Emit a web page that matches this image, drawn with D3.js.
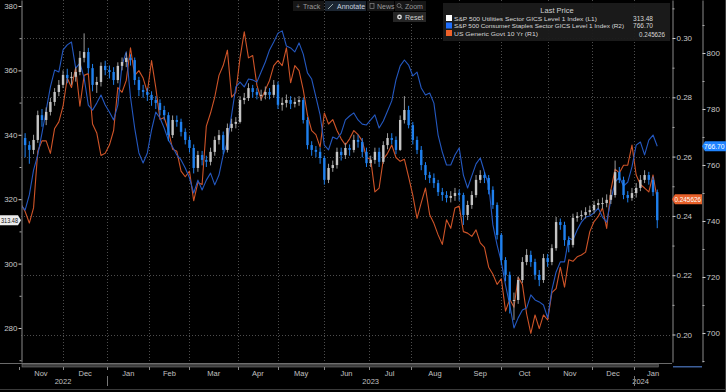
<!DOCTYPE html>
<html><head><meta charset="utf-8">
<script src="https://cdn.jsdelivr.net/npm/d3@7"></script>
<style>
html,body{margin:0;padding:0;background:#000;overflow:hidden}
svg{display:block}
text{font-family:"Liberation Sans",Arial,sans-serif}
</style>
</head><body>
<svg id="c" width="726" height="392"></svg>
<script>
// ---------------- DATA ----------------
const months = ["Nov","Dec","Jan","Feb","Mar","Apr","May","Jun","Jul","Aug","Sep","Oct","Nov","Dec","Jan"];
const monthStarts = [0,21,42,62,81,104,123,145,166,186,209,229,251,272,292]; // trading-day index
const years = ["2022","2023","2024"];
const yearSpans = [[0,42],[42,292],[292,302]];
const leftTicks = [280,300,320,340,360,380];
const r1Ticks = [0.20,0.22,0.24,0.26,0.28,0.30];
const r2Ticks = [700,720,740,760,780,800];
const seriesNames = [
  "S&P 500 Utilities Sector GICS Level 1 Index  (L1)",
  "S&P 500 Consumer Staples Sector GICS Level 1 Index  (R2)",
  "US Generic Govt 10 Yr  (R1)"
];
const lastValues = ["313.48","766.70","0.245626"];
const toolbarItems = ["Track","Annotate","News","Zoom"];

// Utilities (L1) candles, one every 2 trading days
const utilFirstOpen = 340.0;
const utilClose = [339.0,336.8,335.3,338.4,346.1,344.6,347.1,350.2,353.3,355.5,
 358.6,357.6,358.0,359.5,363.9,365.7,360.7,355.5,356.4,361.4,
 360.1,359.5,357.0,361.4,362.6,363.9,363.2,357.0,353.9,353.3,
 352.4,350.8,349.9,347.7,346.1,339.9,344.6,344.0,340.9,338.4,
 335.9,329.7,333.7,332.2,331.6,334.7,338.4,339.9,335.3,342.1,
 343.4,344.0,350.8,351.4,354.5,353.3,352.4,352.4,353.3,352.4,
 355.5,349.3,349.9,350.8,349.6,350.2,350.8,344.6,336.8,335.3,
 334.7,332.8,326.0,329.7,330.6,334.7,333.7,335.9,335.3,338.4,
 337.8,334.7,331.2,332.2,334.7,331.6,336.8,339.0,338.4,335.3,
 344.6,347.7,343.0,338.4,335.3,330.6,327.5,326.6,325.0,322.2,
 321.3,320.4,321.0,321.9,321.3,315.1,318.2,321.3,326.0,327.5,
 326.6,322.9,318.2,308.9,301.1,296.5,288.7,288.7,294.9,300.5,
 302.7,300.5,296.5,294.9,301.7,300.5,304.8,312.9,312.0,307.3,
 305.8,314.2,314.8,315.1,316.0,316.6,318.2,318.8,318.8,319.8,
 321.3,328.4,326.0,321.3,320.4,321.9,323.5,326.0,327.5,326.0,
 322.2,313.48];
const utilHigh = [341.5,340.5,338.0,340.0,347.5,348.0,348.5,351.5,354.5,357.0,
 360.0,360.5,359.5,361.0,366.0,371.5,367.0,362.0,358.0,362.5,
 363.0,361.5,361.0,362.5,364.0,365.5,365.0,364.0,358.0,355.5,
 354.5,353.5,352.0,351.0,349.0,347.0,346.0,346.0,345.0,342.0,
 339.5,337.0,335.0,335.0,333.5,336.0,339.5,341.5,341.0,343.5,
 345.0,345.5,352.0,353.0,356.0,355.5,354.5,354.0,355.0,354.5,
 357.0,356.5,351.5,352.5,352.0,351.5,352.0,351.5,345.5,338.0,
 336.5,336.0,333.5,331.0,332.0,336.0,336.0,337.5,337.0,340.0,
 340.0,339.0,336.0,333.5,336.0,336.0,338.0,340.5,340.5,339.5,
 346.0,352.0,349.0,344.0,339.5,336.5,331.5,328.5,328.0,326.0,
 323.5,322.5,322.5,323.5,323.0,322.0,319.5,322.5,327.5,329.0,
 328.5,327.5,324.0,319.0,309.5,302.0,297.5,291.0,296.0,302.0,
 304.5,304.0,301.5,298.0,303.0,303.0,306.0,314.5,314.0,313.0,
 308.5,315.5,316.0,316.5,317.5,318.0,319.5,320.0,320.5,321.5,
 323.0,332.0,330.0,327.0,322.5,323.5,325.0,327.5,329.0,328.5,
 327.0,323.0];
const utilLow = [337.0,333.0,331.0,334.0,337.5,342.5,343.0,346.0,349.0,352.0,
 354.5,356.0,355.5,356.5,358.5,362.5,359.0,353.5,353.0,355.0,
 358.5,357.5,355.5,356.0,360.0,361.0,361.5,355.5,352.0,351.5,
 350.5,349.0,348.0,346.0,344.5,338.0,339.0,342.5,339.5,337.0,
 334.5,328.0,328.5,330.5,330.0,330.5,333.5,337.0,334.0,334.5,
 341.0,342.0,343.5,349.5,350.5,351.5,351.0,350.5,351.0,351.0,
 351.5,348.0,347.5,348.5,348.0,348.5,349.0,343.5,335.5,333.5,
 333.0,331.0,324.5,325.0,328.5,329.5,332.0,332.5,333.5,334.5,
 336.0,333.0,330.0,330.0,331.0,330.0,331.0,335.5,337.0,334.0,
 335.0,343.5,342.0,337.0,334.0,329.0,326.0,325.0,323.5,321.0,
 319.5,319.0,319.0,319.5,319.5,312.0,313.5,317.0,320.5,325.0,
 325.0,321.5,317.0,307.5,299.5,294.5,284.5,282.5,287.5,294.0,
 299.5,299.0,295.0,293.0,294.0,299.0,299.5,304.0,310.5,305.5,
 303.5,305.0,313.0,313.5,314.0,315.0,315.5,317.0,317.0,317.5,
 318.5,320.5,325.0,320.0,319.0,319.5,320.5,322.5,325.0,324.5,
 321.0,311.0];

// Consumer Staples (R2)
const staples = [745.7,743.9,749.3,758.2,763.6,771.4,779.6,787.9,793.9,793.2,
 801.1,802.9,803.9,794.6,796.4,791.1,781.4,779.6,782.1,785.0,
 781.4,778.9,776.1,781.4,795.7,800.4,784.3,773.2,764.3,760.7,
 764.3,772.5,778.9,776.8,773.2,768.9,766.4,763.6,761.8,758.9,
 755.4,750.0,754.6,751.1,754.6,757.1,752.9,756.4,763.6,768.2,
 777.9,787.9,789.6,787.9,790.7,790.4,789.6,793.2,796.8,801.1,
 803.9,807.1,807.9,802.5,801.8,800.4,803.6,799.6,792.9,790.7,
 784.3,777.9,767.1,765.4,770.0,769.3,771.4,776.1,777.5,778.6,
 776.1,774.6,774.3,776.1,777.9,773.2,775.7,779.3,782.9,790.4,
 795.4,797.5,795.7,791.8,793.2,787.5,785.0,785.7,782.1,770.7,
 764.6,760.0,760.0,763.6,766.1,756.4,751.8,756.1,760.4,762.5,
 757.5,752.9,738.6,731.4,725.4,717.1,710.0,701.8,705.4,708.2,
 708.9,713.6,711.8,711.1,710.0,705.4,715.4,721.8,725.4,725.4,
 733.9,733.2,736.8,739.6,741.4,741.8,742.9,744.6,741.4,739.6,
 747.5,753.9,755.7,752.5,753.9,759.3,767.1,768.2,763.6,768.9,
 770.7,766.70];

// US Generic Govt 10 Yr (R1)
const govt10 = [0.2440,0.2415,0.2376,0.2427,0.2618,0.2653,0.2653,0.2611,0.2695,0.2717,
 0.2770,0.2865,0.2833,0.2900,0.2770,0.2874,0.2880,0.2710,0.2680,0.2604,
 0.2611,0.2639,0.2688,0.2833,0.2817,0.2857,0.2967,0.2874,0.2890,0.2865,
 0.2817,0.2924,0.2833,0.2725,0.2732,0.2688,0.2625,0.2618,0.2551,0.2532,
 0.2551,0.2451,0.2513,0.2506,0.2703,0.2747,0.2801,0.2874,0.2907,0.2959,
 0.2801,0.2817,0.2933,0.3021,0.2933,0.2941,0.2841,0.2793,0.2825,0.2857,
 0.2907,0.2924,0.2907,0.2967,0.2849,0.2907,0.2890,0.2825,0.2740,0.2688,
 0.2674,0.2632,0.2747,0.2710,0.2725,0.2688,0.2660,0.2639,0.2660,0.2688,
 0.2674,0.2653,0.2597,0.2591,0.2481,0.2494,0.2591,0.2611,0.2639,0.2597,
 0.2584,0.2591,0.2532,0.2469,0.2392,0.2445,0.2494,0.2404,0.2375,0.2336,
 0.2304,0.2387,0.2358,0.2427,0.2433,0.2347,0.2342,0.2331,0.2353,0.2309,
 0.2294,0.2227,0.2203,0.2169,0.2188,0.2079,0.2119,0.2092,0.2193,0.2169,
 0.2070,0.2004,0.2066,0.2020,0.2066,0.2049,0.2141,0.2155,0.2227,0.2160,
 0.2252,0.2247,0.2262,0.2268,0.2278,0.2347,0.2381,0.2398,0.2427,0.2358,
 0.2488,0.2558,0.2545,0.2571,0.2571,0.2639,0.2538,0.2506,0.2494,0.2481,
 0.2538,0.245626];

// ---------------- CHART ----------------
const svg = d3.select("#c");
svg.append("rect").attr("width",726).attr("height",392).attr("fill","#000");

const plotL = 21, plotR = 672, plotT = 0, plotB = 362;
const x = d3.scaleLinear().domain([0,310]).range([18.8,672]);
const yL = d3.scaleLinear().domain([269.44,381.86]).range([plotB,plotT]);
const yR1 = d3.scaleLinear().domain([0.19073,0.31282]).range([plotB,plotT]);
const yR2 = d3.scaleLinear().domain([689.64,818.93]).range([plotB,plotT]);
const dayOf = i => 2*i + 1;

const gridColor = "#4d4d4d";
svg.append("g").selectAll("line").data(r1Ticks).join("line")
  .attr("x1",plotL).attr("x2",plotR)
  .attr("y1",d=>Math.round(yR1(d))+0.5).attr("y2",d=>Math.round(yR1(d))+0.5)
  .attr("stroke",gridColor).attr("stroke-width",1).attr("stroke-dasharray","1,2");
svg.append("g").selectAll("line").data(monthStarts.slice(1)).join("line")
  .attr("x1",d=>Math.round(x(d))+0.5).attr("x2",d=>Math.round(x(d))+0.5)
  .attr("y1",plotT).attr("y2",plotB)
  .attr("stroke",gridColor).attr("stroke-width",1).attr("stroke-dasharray","1,2");

svg.append("clipPath").attr("id","clip").append("rect")
  .attr("x",plotL+1).attr("y",plotT).attr("width",plotR-plotL-1).attr("height",plotB-plotT);
const plot = svg.append("g").attr("clip-path","url(#clip)");

const lineR1 = d3.line().x((d,i)=>x(dayOf(i))).y(d=>yR1(d));
const lineR2 = d3.line().x((d,i)=>x(dayOf(i))).y(d=>yR2(d));
plot.append("path").datum(govt10).attr("d",lineR1)
  .attr("fill","none").attr("stroke","#cf5428").attr("stroke-width",1.1).attr("stroke-linejoin","round");
plot.append("path").datum(staples).attr("d",lineR2)
  .attr("fill","none").attr("stroke","#2458c0").attr("stroke-width",1.1).attr("stroke-linejoin","round");

const candles = utilClose.map((c,i)=>({
  d: dayOf(i), o: i ? utilClose[i-1] : utilFirstOpen, c, h: utilHigh[i], l: utilLow[i]
}));
const upCol = "#c4c4c4", dnCol = "#1f80ee";
const cg = plot.append("g");
cg.selectAll("line").data(candles).join("line")
  .attr("x1",d=>x(d.d)).attr("x2",d=>x(d.d))
  .attr("y1",d=>yL(d.h)).attr("y2",d=>yL(d.l))
  .attr("stroke",d=>d.c>=d.o?"#9a9a9a":dnCol).attr("stroke-width",1);
cg.selectAll("rect").data(candles).join("rect")
  .attr("x",d=>x(d.d)-1.2).attr("width",2.4)
  .attr("y",d=>yL(Math.max(d.o,d.c)))
  .attr("height",d=>Math.max(1,Math.abs(yL(d.o)-yL(d.c))))
  .attr("fill",d=>d.c>=d.o?upCol:dnCol);

function styleAxis(g){
  g.selectAll(".domain").attr("stroke","#8a8a8a");
  g.selectAll(".tick line").attr("stroke","#cfcfcf");
  g.selectAll(".tick text").attr("fill","#c8c8c8").attr("font-size","8px")
    .attr("font-family","'Liberation Sans',Arial,sans-serif");
}
const midpoints = arr => arr.slice(0,-1).map((v,i)=>(v+arr[i+1])/2);

const gL = svg.append("g").attr("transform",`translate(${plotL+0.5},0)`)
  .call(d3.axisLeft(yL).tickValues(leftTicks).tickSize(3).tickSizeOuter(0).tickPadding(1).tickFormat(d3.format("d")));
styleAxis(gL);
svg.append("g").attr("transform",`translate(${plotL+0.5},0)`)
  .call(d3.axisLeft(yL).tickValues(midpoints(leftTicks).concat([270])).tickSize(2).tickFormat(""))
  .call(g=>{g.select(".domain").remove(); g.selectAll(".tick line").attr("stroke","#aaa");});

const gR1 = svg.append("g").attr("transform",`translate(${plotR+0.5},0)`)
  .call(d3.axisRight(yR1).tickValues(r1Ticks).tickSize(3).tickSizeOuter(0).tickPadding(1).tickFormat(d3.format(".2f")));
styleAxis(gR1);
svg.append("g").attr("transform",`translate(${plotR+0.5},0)`)
  .call(d3.axisRight(yR1).tickValues(midpoints(r1Ticks).concat([0.31])).tickSize(2).tickFormat(""))
  .call(g=>{g.select(".domain").remove(); g.selectAll(".tick line").attr("stroke","#aaa");});

const gR2 = svg.append("g").attr("transform",`translate(702.5,0)`)
  .call(d3.axisRight(yR2).tickValues(r2Ticks).tickSize(3).tickSizeOuter(0).tickPadding(1).tickFormat(d3.format("d")));
styleAxis(gR2);
svg.append("g").attr("transform",`translate(702.5,0)`)
  .call(d3.axisRight(yR2).tickValues(midpoints(r2Ticks).concat([810,690])).tickSize(2).tickFormat(""))
  .call(g=>{g.select(".domain").remove(); g.selectAll(".tick line").attr("stroke","#aaa");});

// bottom time bar
svg.append("line").attr("x1",0).attr("x2",plotR).attr("y1",363.5).attr("y2",363.5).attr("stroke","#6a6a6a");
svg.append("rect").attr("x",plotL+1).attr("y",364).attr("width",x(303)-plotL).attr("height",3)
  .attr("fill","#3a3a3a").attr("stroke","#777").attr("stroke-width",0.6);
svg.append("rect").attr("x",673).attr("y",366).attr("width",29).attr("height",1.5).attr("fill","#3d5f9a");
svg.append("g").selectAll("line").data(monthStarts).join("line")
  .attr("x1",d=>Math.round(x(d))+0.5).attr("x2",d=>Math.round(x(d))+0.5)
  .attr("y1",367).attr("y2",370).attr("stroke","#888");
const monthEnds = monthStarts.slice(1).concat([310]);
svg.append("g").selectAll("text").data(months).join("text")
  .attr("x",(d,i)=>(x(monthStarts[i])+x(monthEnds[i]))/2).attr("y",376)
  .attr("text-anchor","middle").attr("fill","#c0c0c0").attr("font-size","7.5px").text(d=>d);
svg.append("g").selectAll("text").data(years).join("text")
  .attr("x",(d,i)=>(x(yearSpans[i][0])+x(yearSpans[i][1]))/2 - (i===2?4:0)).attr("y",384)
  .attr("text-anchor","middle").attr("fill","#c0c0c0").attr("font-size","7.5px").text(d=>d);
svg.append("g").selectAll("line").data([42,292]).join("line")
  .attr("x1",d=>Math.round(x(d))+0.5).attr("x2",d=>Math.round(x(d))+0.5)
  .attr("y1",376).attr("y2",386).attr("stroke","#777");
svg.append("line").attr("x1",0).attr("x2",726).attr("y1",389.5).attr("y2",389.5).attr("stroke","#3a3a3a");
svg.append("line").attr("x1",725.5).attr("x2",725.5).attr("y1",0).attr("y2",392).attr("stroke","#3a3a3a");

// last value tags
const lastL = utilClose[utilClose.length-1], lastR2 = staples[staples.length-1], lastR1 = govt10[govt10.length-1];
{
  const y = yL(lastL);
  svg.append("path").attr("d",`M0,${y-5}H18L21,${y}L18,${y+5}H0Z`).attr("fill","#ececec");
  svg.append("text").attr("x",1).attr("y",y+2.5).attr("fill","#111")
    .attr("font-size","6.5px").attr("textLength",17).attr("lengthAdjust","spacingAndGlyphs").text(lastValues[0]);
}
{
  const y = yR1(lastR1);
  svg.append("path").attr("d",`M${plotR},${y}L${plotR+3},${y-5}H702V${y+5}H${plotR+3}Z`).attr("fill","#e8612a");
  svg.append("text").attr("x",674.5).attr("y",y+2.5).attr("fill","#fff")
    .attr("font-size","6.5px").attr("textLength",26.5).attr("lengthAdjust","spacingAndGlyphs").text(lastValues[2]);
}
{
  const y = yR2(lastR2);
  svg.append("path").attr("d",`M702,${y}L705,${y-5}H726V${y+5}H705Z`).attr("fill","#1f84ff");
  svg.append("text").attr("x",704).attr("y",y+2.5).attr("fill","#fff")
    .attr("font-size","6.8px").attr("textLength",20.5).attr("lengthAdjust","spacingAndGlyphs").text(lastValues[1]);
}

// toolbar
const tb = svg.append("g");
const tbX = [293,325,367,395], tbW = [31,41,27,31];
toolbarItems.forEach((t,i)=>{
  tb.append("rect").attr("x",tbX[i]).attr("y",1).attr("width",tbW[i]).attr("height",10)
    .attr("fill", i===1 ? "#1c2632" : "#161616");
  tb.append("text").attr("x",tbX[i]+ (i===1?12:10)).attr("y",8.6).attr("fill", i===1?"#c9d3de":"#9a9a9a")
    .attr("font-size","7px").text(t);
});
tb.append("text").attr("x",296).attr("y",8.6).attr("fill","#888").attr("font-size","7px").text("+");
tb.append("line").attr("x1",328).attr("y1",9).attr("x2",333).attr("y2",4).attr("stroke","#9aa");
tb.append("rect").attr("x",370).attr("y",3.5).attr("width",4).attr("height",5).attr("fill","none").attr("stroke","#888").attr("stroke-width",0.7);
tb.append("circle").attr("cx",399).attr("cy",5.5).attr("r",2).attr("fill","none").attr("stroke","#888").attr("stroke-width",0.7);
tb.append("line").attr("x1",400.5).attr("y1",7).attr("x2",402.5).attr("y2",9).attr("stroke","#888").attr("stroke-width",0.8);
tb.append("rect").attr("x",393).attr("y",12).attr("width",33).attr("height",10).attr("fill","#262626");
tb.append("circle").attr("cx",399.5).attr("cy",17).attr("r",2.4).attr("fill","#ddd");
tb.append("circle").attr("cx",399.5).attr("cy",17).attr("r",1).attr("fill","#262626");
tb.append("text").attr("x",405).attr("y",19.6).attr("fill","#cfcfcf").attr("font-size","7px").text("Reset");

// legend
const lg = svg.append("g");
lg.append("rect").attr("x",443).attr("y",3).attr("width",227).attr("height",38).attr("fill","#1b1b1b").attr("opacity",0.95);
lg.append("text").attr("x",557).attr("y",13).attr("text-anchor","middle").attr("fill","#d0d0d0").attr("font-size","7.5px").text("Last Price");
const legCols = ["#ffffff","#1f6fff","#f0622a"];
const legY = [18,25.5,33];
const legLen = [143,170,84];
const valX = [653,653,665];
seriesNames.forEach((n,i)=>{
  lg.append("rect").attr("x",446).attr("y",legY[i]-3).attr("width",6).attr("height",6).attr("fill",legCols[i]);
  lg.append("text").attr("x",454).attr("y",legY[i]+2.5).attr("fill","#d8d8d8").attr("font-size","6.2px")
    .attr("textLength",legLen[i]).attr("lengthAdjust","spacingAndGlyphs").text(n);
  lg.append("text").attr("x",valX[i]).attr("y",legY[i]+2.5 + (i===2?1:0)).attr("text-anchor","end").attr("fill","#d8d8d8")
    .attr("font-size","6.8px").attr("textLength",i===2?26:20).attr("lengthAdjust","spacingAndGlyphs").text(lastValues[i]);
});
</script>
</body></html>
